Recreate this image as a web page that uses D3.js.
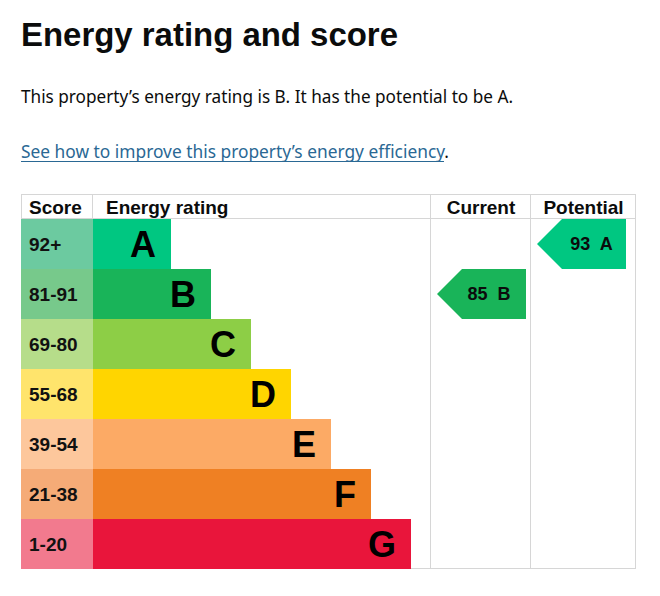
<!DOCTYPE html>
<html lang="en">
<head>
  <meta charset="UTF-8">
  <title>Energy rating and score</title>
  <style>
    body { margin: 0; background: #fff; }
  </style>
  <script src="https://cdn.jsdelivr.net/npm/d3@7"></script>
</head>
<body>
<script>
  var bands = ["A", "B", "C", "D", "E", "F", "G"];
  var scoreRanges = ["92+", "81-91", "69-80", "55-68", "39-54", "21-38", "1-20"];
  var bandColors = ["#00c781", "#19b459", "#8dce46", "#ffd500", "#fcaa65", "#ef8023", "#e9153b"];
  var scoreColors = ["#6ccaa0", "#77c98b", "#b6dd8a", "#ffe46c", "#fdc79c", "#f5ab77", "#f27a8e"];
  var columns = ["Score", "Energy rating", "Current", "Potential"];
  var ratings = [
    {column: "Current", score: 85, band: "B"},
    {column: "Potential", score: 93, band: "A"}
  ];

  var W = 660, H = 596;
  var svg = d3.select("body").append("svg")
    .attr("width", W)
    .attr("height", H);

  var bold = "'Liberation Sans', Arial, sans-serif";

  // heading and intro text
  svg.append("text")
    .attr("x", 21).attr("y", 46)
    .attr("font-family", bold).attr("font-weight", "bold")
    .attr("font-size", 33).attr("fill", "#0b0c0c")
    .attr("textLength", 377).attr("lengthAdjust", "spacingAndGlyphs")
    .text("Energy rating and score");

  svg.append("text")
    .attr("x", 21).attr("y", 103)
    .attr("font-family", "'Noto Sans', sans-serif")
    .attr("font-size", 18).attr("fill", "#0b0c0c")
    .attr("textLength", 492).attr("lengthAdjust", "spacingAndGlyphs")
    .text("This property\u2019s energy rating is B. It has the potential to be A.");

  // link line: blue link text plus a black full stop, in one text element
  var link = svg.append("text")
    .attr("x", 21).attr("y", 158)
    .attr("font-family", "'Noto Sans', sans-serif")
    .attr("font-size", 18)
    .attr("textLength", 428).attr("lengthAdjust", "spacingAndGlyphs");
  link.append("tspan").attr("fill", "#2a6894")
    .text("See how to improve this property\u2019s energy efficiency");
  link.append("tspan").attr("fill", "#0b0c0c").text(".");
  svg.append("line")
    .attr("x1", 21).attr("x2", 444).attr("y1", 161.5).attr("y2", 161.5)
    .attr("stroke", "#2a6894").attr("stroke-width", 1);

  // table geometry
  var tLeft = 21, tRight = 636, tTop = 194, headBottom = 219, tBottom = 569;
  var colX = {Score: 21, "Energy rating": 93, Current: 431, Potential: 531};
  var colEnd = {Score: 93, "Energy rating": 431, Current: 531, Potential: 636};

  var y = d3.scaleBand().domain(bands).range([headBottom, tBottom]);
  var barEnd = d3.scaleLinear().domain([0, 6]).range([171, 411]);

  var g = svg.append("g");

  // grid lines
  var grid = "#d6d6d6";
  g.append("rect")
    .attr("x", tLeft + 0.5).attr("y", tTop + 0.5)
    .attr("width", tRight - tLeft - 1).attr("height", tBottom - tTop - 1)
    .attr("fill", "none").attr("stroke", grid);
  g.append("line")
    .attr("x1", tLeft).attr("x2", tRight).attr("y1", headBottom - 0.5).attr("y2", headBottom - 0.5)
    .attr("stroke", grid);
  g.append("line")
    .attr("x1", colX["Energy rating"] - 0.5).attr("x2", colX["Energy rating"] - 0.5)
    .attr("y1", tTop).attr("y2", headBottom)
    .attr("stroke", grid);
  ["Current", "Potential"].forEach(function(c) {
    g.append("line")
      .attr("x1", colX[c] - 0.5).attr("x2", colX[c] - 0.5)
      .attr("y1", tTop).attr("y2", tBottom)
      .attr("stroke", grid);
  });

  // score cells
  g.selectAll("rect.score").data(bands).enter().append("rect")
    .attr("class", "score")
    .attr("x", colX.Score).attr("y", function(d) { return y(d); })
    .attr("width", colEnd.Score - colX.Score).attr("height", y.bandwidth())
    .attr("fill", function(d, i) { return scoreColors[i]; });

  g.selectAll("text.score").data(scoreRanges).enter().append("text")
    .attr("class", "score")
    .attr("x", 29)
    .attr("y", function(d, i) { return y(bands[i]) + y.bandwidth() / 2 + 7; })
    .attr("font-family", bold).attr("font-weight", "bold").attr("font-size", 19)
    .attr("fill", "#111")
    .text(function(d) { return d; });

  // rating bars
  g.selectAll("rect.bar").data(bands).enter().append("rect")
    .attr("class", "bar")
    .attr("x", colX["Energy rating"]).attr("y", function(d) { return y(d); })
    .attr("width", function(d, i) { return barEnd(i) - colX["Energy rating"]; })
    .attr("height", y.bandwidth())
    .attr("fill", function(d, i) { return bandColors[i]; });

  g.selectAll("text.band").data(bands).enter().append("text")
    .attr("class", "band")
    .attr("x", function(d, i) { return barEnd(i) - 15; })
    .attr("y", function(d) { return y(d) + y.bandwidth() / 2 + 13; })
    .attr("text-anchor", "end")
    .attr("font-family", bold).attr("font-weight", "bold").attr("font-size", 36)
    .attr("fill", "#000")
    .text(function(d) { return d; });

  // header labels
  g.selectAll("text.head").data(columns).enter().append("text")
    .attr("class", "head")
    .attr("x", function(d) {
      if (d === "Score") return 29;
      if (d === "Energy rating") return 106;
      return (colX[d] + colEnd[d]) / 2;
    })
    .attr("y", 214)
    .attr("text-anchor", function(d) { return (d === "Current" || d === "Potential") ? "middle" : "start"; })
    .attr("font-family", bold).attr("font-weight", "bold").attr("font-size", 19)
    .attr("fill", "#0b0c0c")
    .text(function(d) { return d; });

  // current / potential arrows
  var tip = 25;
  var arrows = g.selectAll("g.arrow").data(ratings).enter().append("g").attr("class", "arrow");
  arrows.append("path")
    .attr("d", function(d) {
      var x0 = colX[d.column] + 6, x1 = colEnd[d.column] - 5;
      if (d.column === "Potential") x1 = colEnd[d.column] - 10;
      var y0 = y(d.band), y1 = y0 + y.bandwidth();
      return "M" + x0 + "," + (y0 + y.bandwidth() / 2) +
        "L" + (x0 + tip) + "," + y0 + "L" + x1 + "," + y0 +
        "L" + x1 + "," + y1 + "L" + (x0 + tip) + "," + y1 + "Z";
    })
    .attr("fill", function(d) { return bandColors[bands.indexOf(d.band)]; });
  arrows.append("text")
    .attr("x", function(d) { return (colX[d.column] + 6 + tip + colEnd[d.column] - 5) / 2 - 5; })
    .attr("y", function(d) { return y(d.band) + y.bandwidth() / 2 + 6; })
    .attr("text-anchor", "middle")
    .attr("font-family", bold).attr("font-weight", "bold").attr("font-size", 18)
    .attr("fill", "#0b0c0c")
    .attr("xml:space", "preserve")
    .text(function(d) { return d.score + "  " + d.band; });
</script>
</body>
</html>
